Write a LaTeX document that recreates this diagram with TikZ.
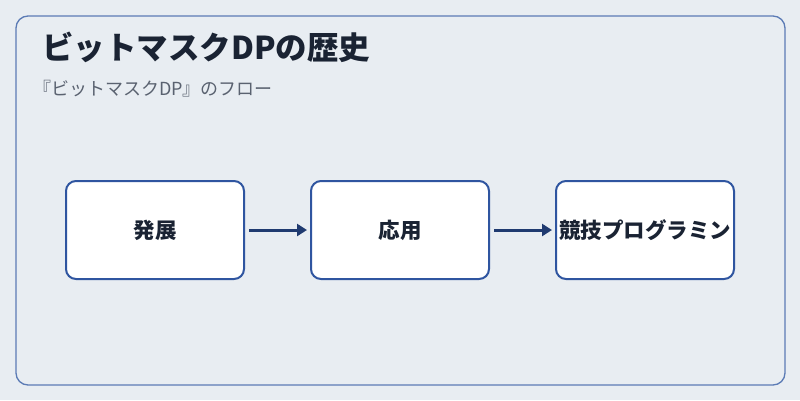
\documentclass[tikz,border=0pt]{standalone}
\usepackage{fontspec}
\setmainfont{Noto Sans CJK JP}
\usetikzlibrary{arrows.meta}
\definecolor{bg}{HTML}{E8EDF2}
\definecolor{frame}{HTML}{5B7BB5}
\definecolor{boxb}{HTML}{2F55A0}
\definecolor{arr}{HTML}{1F3A70}
\definecolor{ttl}{HTML}{1A2333}
\definecolor{sub}{HTML}{5A6270}
\tikzset{
  stepbox/.style={draw=boxb,line width=2pt,fill=white,rounded corners=10pt,minimum width=178pt,minimum height=98pt,font=\bfseries\fontsize{21.5}{24}\selectfont,text=ttl,inner sep=0pt},
  flow/.style={draw=arr,line width=3pt,-{Triangle[length=10pt,width=12pt]}}
}
\begin{document}
\begin{tikzpicture}[x=1pt,y=-1pt]
\useasboundingbox[fill=bg] (0,0) rectangle (800,400);
\draw[frame,line width=1.3pt,rounded corners=12pt] (16,16) rectangle (785,385);
\node[anchor=west,font=\bfseries\fontsize{31.5}{36}\selectfont,text=ttl,inner sep=0pt] (title) at (42,47) {ビットマスクDPの歴史};
\node[anchor=west,font=\fontsize{18}{21}\selectfont,text=sub,inner sep=0pt] (subt) at (33,89) {『ビットマスクDP』のフロー};
\node[stepbox] (a) at (155,230) {発展};
\node[stepbox] (b) at (400,230) {応用};
\node[stepbox] (c) at (645,230) {競技プログラミン};
\draw[flow] ([xshift=4pt]a.east) -- ([xshift=-3pt]b.west);
\draw[flow] ([xshift=4pt]b.east) -- ([xshift=-3pt]c.west);
\end{tikzpicture}
\end{document}
